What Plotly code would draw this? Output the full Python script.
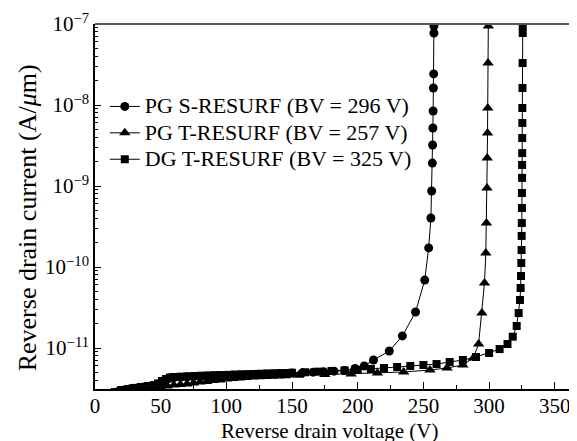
import plotly.graph_objects as go

# ---------------- data ----------------
# PG S-RESURF (circles)
v_circ = [15, 18, 21, 24, 27, 30, 33, 36, 39, 42, 45, 48, 51, 54, 57, 60, 65, 70, 75, 80,
          85, 90, 95, 100, 105, 110, 115, 120, 125, 130, 135, 140, 145, 150, 158, 166, 174,
          182, 190, 198, 205, 212, 224, 234, 244, 251, 254, 255.7, 256.3, 256.8, 257, 257.2,
          257.4, 257.6, 257.8, 258, 258]
i_circ = [2.80e-12, 2.92e-12, 3.00e-12, 3.08e-12, 3.14e-12, 3.19e-12, 3.24e-12, 3.28e-12,
          3.33e-12, 3.38e-12, 3.44e-12, 3.58e-12, 3.85e-12, 4.08e-12, 4.26e-12, 4.33e-12,
          4.37e-12, 4.41e-12, 4.45e-12, 4.49e-12, 4.52e-12, 4.55e-12, 4.57e-12, 4.60e-12,
          4.63e-12, 4.66e-12, 4.69e-12, 4.72e-12, 4.75e-12, 4.78e-12, 4.80e-12, 4.83e-12,
          4.86e-12, 4.90e-12, 4.96e-12, 5.03e-12, 5.10e-12, 5.18e-12, 5.27e-12, 5.60e-12,
          6.0e-12, 7.11e-12, 9.18e-12, 1.41e-11, 2.78e-11, 6.9e-11, 1.72e-10, 4.03e-10,
          8.67e-10, 1.92e-9, 3.21e-9, 5.2e-9, 8.43e-9, 1.62e-8, 2.42e-8, 7.74e-8, 9.44e-8]

# PG T-RESURF (triangles)
v_tri = [15, 20, 25, 30, 35, 40, 45, 50, 55, 60, 65, 70, 75, 80, 85, 90, 95, 100, 105, 110,
         115, 120, 125, 130, 135, 140, 145, 155, 175, 195, 215, 235, 255, 268, 280, 288, 292,
         294.5, 296.5, 297.5, 298, 298.4, 298.6, 298.8, 299, 299.2, 299.4]
i_tri = [2.70e-12, 2.77e-12, 2.85e-12, 2.93e-12, 3.03e-12, 3.12e-12, 3.21e-12, 3.30e-12,
         3.40e-12, 3.49e-12, 3.55e-12, 3.60e-12, 3.70e-12, 3.80e-12, 3.85e-12, 3.97e-12,
         4.03e-12, 4.14e-12, 4.20e-12, 4.26e-12, 4.32e-12, 4.38e-12, 4.41e-12, 4.45e-12,
         4.48e-12, 4.51e-12, 4.54e-12, 4.60e-12, 4.71e-12, 4.78e-12, 4.91e-12, 5.06e-12,
         5.35e-12, 5.67e-12, 6.17e-12, 7.53e-12, 1.12e-11, 2.70e-11, 6.34e-11, 1.49e-10,
         3.49e-10, 9.44e-10, 2.22e-9, 4.51e-9, 9.18e-9, 3.30e-8, 9.44e-8]

# DG T-RESURF (squares)
v_sq = [15, 20, 25, 30, 35, 40, 45, 48, 51, 54, 57, 60, 65, 70, 75, 80, 85, 90, 95, 100,
        105, 110, 115, 120, 125, 130, 135, 140, 145, 150, 160, 170, 180, 190, 200, 210, 220,
        230, 240, 250, 260, 270, 280, 290, 300, 308, 314, 318, 321, 322.5, 323.5, 324,
        324.3, 324.5, 324.7, 324.8, 324.9, 325, 325, 325.1, 325.1, 325.2, 325.2, 325.3,
        325.3, 325.4, 325.5, 325.6, 325.6]
i_sq = [2.86e-12, 3.03e-12, 3.12e-12, 3.21e-12, 3.30e-12, 3.40e-12, 3.49e-12, 3.65e-12,
        3.91e-12, 4.14e-12, 4.32e-12, 4.38e-12, 4.42e-12, 4.46e-12, 4.50e-12, 4.54e-12,
        4.57e-12, 4.60e-12, 4.62e-12, 4.64e-12, 4.68e-12, 4.71e-12, 4.74e-12, 4.78e-12,
        4.80e-12, 4.83e-12, 4.85e-12, 4.88e-12, 4.91e-12, 4.95e-12, 5.02e-12, 5.11e-12,
        5.20e-12, 5.29e-12, 5.38e-12, 5.51e-12, 5.67e-12, 5.83e-12, 6.00e-12, 6.17e-12,
        6.34e-12, 6.72e-12, 7.11e-12, 7.74e-12, 8.67e-12, 9.7e-12, 1.12e-11, 1.38e-11,
        1.87e-11, 2.70e-11, 3.92e-11, 5.51e-11, 7.74e-11, 1.12e-10, 1.62e-10, 2.42e-10,
        3.49e-10, 5.35e-10, 8.2e-10, 1.26e-9, 1.82e-9, 2.55e-9, 3.91e-9, 6.0e-9, 9.18e-9,
        1.62e-8, 3.30e-8, 7.74e-8, 9.44e-8]

names = ["PG S-RESURF (BV = 296 V)", "PG T-RESURF (BV = 257 V)", "DG T-RESURF (BV = 325 V)"]
x_ticks = [0, 50, 100, 150, 200, 250, 300, 350]
y_decades = [-11, -10, -9, -8, -7]
x_title = "Reverse drain voltage (V)"
y_title = "Reverse drain current (A/<i>\u03bc</i>m)"

# ---------------- figure ----------------
FONT = "'Liberation Serif', 'DejaVu Serif', serif"
fig = go.Figure()
series = [(v_circ, i_circ, "circle", 9), (v_tri, i_tri, "triangle-up", 10), (v_sq, i_sq, "square", 8)]
for (vx, iy, sym, sz), nm in zip(series, names):
    fig.add_trace(go.Scatter(
        x=vx, y=iy, mode="lines+markers", name='<span style="font-size:22px">' + nm + '</span>',
        line=dict(color="black", width=1),
        marker=dict(symbol=sym, size=sz, color="black"),
    ))

minor_vals = [m * 10 ** d for d in range(-12, -7) for m in range(2, 10)]
fig.update_layout(
    width=577, height=441,
    margin=dict(l=87, r=0, t=16, b=60, autoexpand=False),
    paper_bgcolor="white", plot_bgcolor="white",
    font=dict(family=FONT, size=21, color="black"),
    showlegend=True,
    legend=dict(x=0.02, y=0.824, xanchor="left", yanchor="top", bgcolor="rgba(0,0,0,0)",
                font=dict(family=FONT, size=18), traceorder="normal"),
    xaxis=dict(range=[0, 373], tickvals=x_ticks, ticks="inside", ticklen=7, tickwidth=1,
               tickcolor="black", showline=True, linecolor="black", linewidth=1.5,
               showgrid=False, zeroline=False, automargin=False,
               minor=dict(dtick=25, tick0=0, ticks="inside", ticklen=4, tickcolor="black"),
               tickfont=dict(size=21), ticklabelstandoff=-3),
    yaxis=dict(type="log", range=[-11.506, -7],
               tickvals=[10 ** d for d in y_decades],
               ticktext=["10<sup>\u2212%d</sup>" % (-d) for d in y_decades],
               ticks="inside", ticklen=6, tickwidth=1, tickcolor="black",
               showline=True, linecolor="black", linewidth=1.5, showgrid=False, zeroline=False,
               automargin=False,
               minor=dict(tickvals=minor_vals, ticks="inside", ticklen=3, tickcolor="black"),
               tickfont=dict(size=21)),
    annotations=[
        dict(text=x_title, xref="paper", yref="paper", x=0.48, y=-0.114,
             xanchor="center", yanchor="middle", showarrow=False, font=dict(size=21)),
        dict(text=y_title, xref="paper", yref="paper", x=-0.137, y=0.47, textangle=-90,
             xanchor="center", yanchor="middle", showarrow=False, font=dict(size=26)),
    ],
)
fig.add_shape(type="line", xref="paper", yref="paper", x0=0, x1=1, y0=1, y1=1,
              line=dict(color="#555555", width=2))
fig.write_html("out.html")
